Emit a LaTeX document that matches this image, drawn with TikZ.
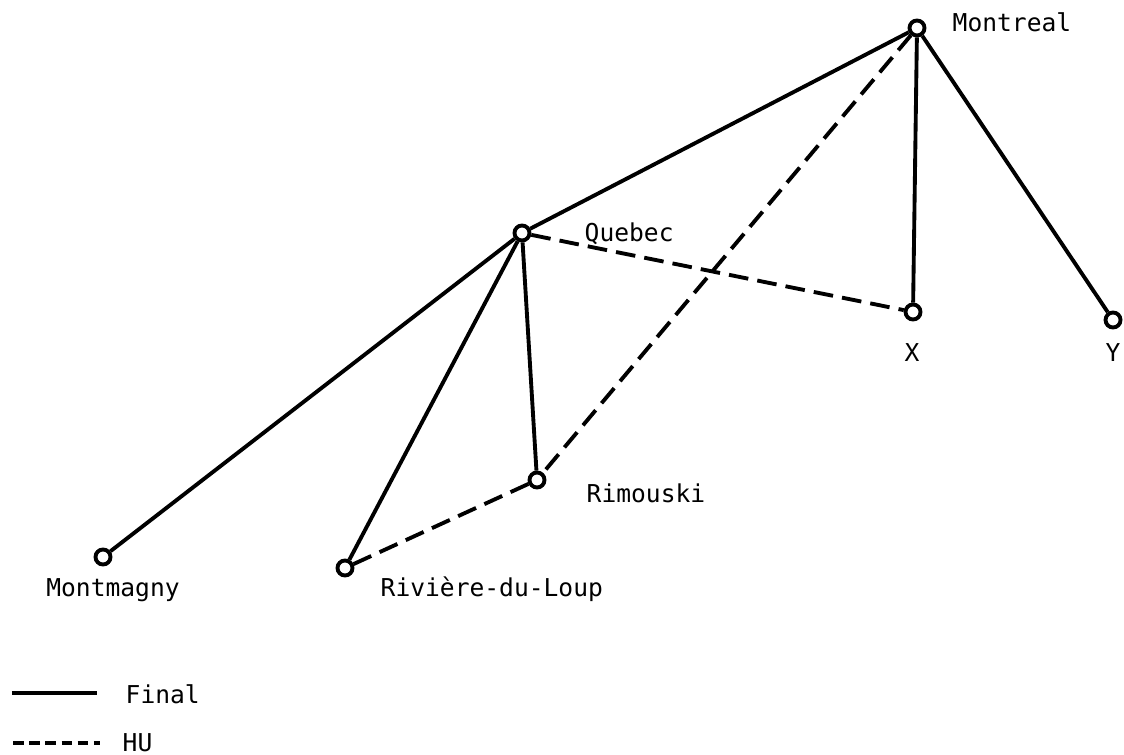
\documentclass[tikz,border=0pt]{standalone}
\usepackage{fontspec}
\setmonofont{DejaVu Sans Mono}
\usepackage{tikz}
\usetikzlibrary{positioning}

\begin{document}
\begin{tikzpicture}[
    font=\ttfamily\fontsize{7}{8}\selectfont,
    city/.style={draw, circle, line width=1.1pt, fill=white, inner sep=0pt, minimum size=0.15cm},
    final/.style={line width=1.1pt},
    hu/.style={line width=1.1pt, dash pattern=on 5.6pt off 2.6pt},
    hukey/.style={line width=1.1pt, dash pattern=on 3pt off 1.6pt},
    lbl/.style={inner sep=0pt}
]

\useasboundingbox (0,0) rectangle (11.24,7.54);

% cities
\node[city] (montreal)  at (9.17,7.26) {};
\node[city] (quebec)    at (5.22,5.21) {};
\node[city] (ptx)       at (9.13,4.42) {};
\node[city] (pty)       at (11.13,4.34) {};
\node[city] (rimouski)  at (5.37,2.74) {};
\node[city] (riviere)   at (3.45,1.86) {};
\node[city] (montmagny) at (1.03,1.97) {};

% names
\node[lbl, anchor=base west] (montreal-lbl) at (9.52,7.22) {Montreal};
\node[lbl, anchor=base west] (quebec-lbl) at (5.84,5.12) {Quebec};
\node[lbl, anchor=base] (ptx-lbl) at (9.12,3.92) {X};
\node[lbl, anchor=base] (pty-lbl) at (11.13,3.92) {Y};
\node[lbl, anchor=base west] (rimouski-lbl) at (5.86,2.51) {Rimouski};
\node[lbl, anchor=base west] (riviere-lbl) at (3.80,1.57) {Rivière-du-Loup};
\node[lbl, anchor=base] (montmagny-lbl) at (1.13,1.57) {Montmagny};

% final links
\draw[final] (montreal) -- (quebec);
\draw[final] (montreal) -- (ptx);
\draw[final] (montreal) -- (pty);
\draw[final] (quebec) -- (montmagny);
\draw[final] (quebec) -- (riviere);
\draw[final] (quebec) -- (rimouski);

% HU links
\draw[hu] (quebec) -- (ptx);
\draw[hu] (montreal) -- (rimouski);
\draw[hu] (rimouski) -- (riviere);

% legend
\coordinate (fin-a) at (0.12,0.61);
\coordinate (fin-b) at (0.97,0.61);
\coordinate (hu-a) at (0.13,0.11);
\coordinate (hu-b) at (1.00,0.11);
\draw[final] (fin-a) -- (fin-b);
\draw[hukey] (hu-a) -- (hu-b);
\node[lbl, anchor=base west] (fin-lbl) at (1.25,0.51) {Final};
\node[lbl, anchor=base west] (hu-lbl) at (1.22,0.03) {HU};

\end{tikzpicture}
\end{document}
